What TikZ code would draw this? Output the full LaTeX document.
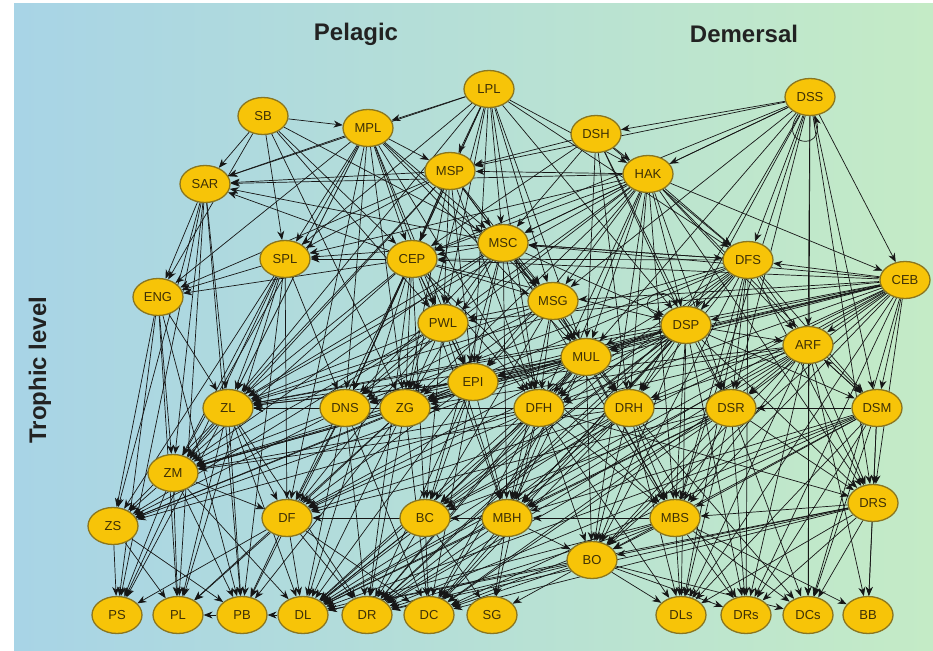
\documentclass[tikz,border=0pt]{standalone}
\usepackage{fontspec}
\setsansfont{Liberation Sans}
\usetikzlibrary{arrows.meta,shapes.geometric}
\usepackage{xcolor}
\definecolor{seablue}{HTML}{A8D4E6}
\definecolor{seamid}{HTML}{B6E0DA}
\definecolor{seagreen}{HTML}{C4EBC6}
\definecolor{nodefill}{HTML}{F7C408}
\definecolor{nodeline}{HTML}{8A7620}
\definecolor{nodetext}{HTML}{3E3006}
\definecolor{linkcol}{HTML}{161616}
\definecolor{titlecol}{HTML}{222222}
\pgfdeclarelayer{back}
\pgfdeclarelayer{links}
\pgfsetlayers{back,links,main}

\begin{document}
\begin{tikzpicture}[x=1pt, y=-1pt,
    main/.style = {draw=nodeline, fill=nodefill, ellipse, line width=1.3pt,
      minimum width=50pt, minimum height=37pt, inner sep=0pt,
      font=\sffamily\fontsize{13}{13}\selectfont, text=nodetext},
    link/.style = {-{Stealth[length=9pt,width=7pt]}, line width=0.7pt, draw=linkcol},
    title/.style = {font=\sffamily\bfseries\fontsize{24}{24}\selectfont, text=titlecol}]
  \useasboundingbox (0,0) rectangle (933,650);
  \begin{pgfonlayer}{back}
    \shade[left color=seablue, middle color=seamid, right color=seagreen] (14,4) rectangle (933,650);
  \end{pgfonlayer}

  % titles
  \node[title] (pelagic) at (356,34) {Pelagic};
  \node[title] (demersal) at (744,34) {Demersal};
  \node[title, rotate=90] (trophic) at (40,370) {Trophic level};

  % top predators
  \node[main] (LPL) at (489,89) {LPL};
  \node[main] (SB)  at (263,116) {SB};
  \node[main] (MPL) at (368,128) {MPL};
  \node[main] (DSH) at (596,134) {DSH};
  \node[main] (DSS) at (810,97) {DSS};
  \node[main] (MSP) at (450,171) {MSP};
  \node[main] (HAK) at (648,174) {HAK};
  \node[main] (SAR) at (205,184) {SAR};
  % upper middle
  \node[main] (MSC) at (503,243) {MSC};
  \node[main] (SPL) at (285,259) {SPL};
  \node[main] (CEP) at (412,259) {CEP};
  \node[main] (DFS) at (748,260) {DFS};
  \node[main] (CEB) at (905,280) {CEB};
  \node[main] (ENG) at (158,297) {ENG};
  \node[main] (MSG) at (553,301) {MSG};
  \node[main] (PWL) at (443,323) {PWL};
  \node[main] (DSP) at (686,325) {DSP};
  \node[main] (ARF) at (808,345) {ARF};
  \node[main] (MUL) at (586,357) {MUL};
  \node[main] (EPI) at (473,382) {EPI};
  % lower middle
  \node[main] (ZL)  at (228,408) {ZL};
  \node[main] (DNS) at (345,408) {DNS};
  \node[main] (ZG)  at (405,408) {ZG};
  \node[main] (DFH) at (539,408) {DFH};
  \node[main] (DRH) at (629,408) {DRH};
  \node[main] (DSR) at (731,408) {DSR};
  \node[main] (DSM) at (877,408) {DSM};
  \node[main] (ZM)  at (173,473) {ZM};
  \node[main] (ZS)  at (113,526) {ZS};
  \node[main] (DF)  at (287,518) {DF};
  \node[main] (BC)  at (425,518) {BC};
  \node[main] (MBH) at (507,518) {MBH};
  \node[main] (MBS) at (675,518) {MBS};
  \node[main] (DRS) at (873,503) {DRS};
  \node[main] (BO)  at (592,560) {BO};
  % basal groups
  \node[main] (PS)  at (117,615) {PS};
  \node[main] (PL)  at (178,615) {PL};
  \node[main] (PB)  at (242,615) {PB};
  \node[main] (DL)  at (303,615) {DL};
  \node[main] (DR)  at (367,615) {DR};
  \node[main] (DC)  at (429,615) {DC};
  \node[main] (SG)  at (492,615) {SG};
  \node[main] (DLs) at (681,615) {DLs};
  \node[main] (DRs) at (746,615) {DRs};
  \node[main] (DCs) at (808,615) {DCs};
  \node[main] (BB)  at (868,615) {BB};

  \begin{pgfonlayer}{links}
    \foreach \p in {MPL,MSP,SAR,SPL,CEP,MSC,MSG,PWL,EPI,MUL,DSP,DFS,ZG,DNS,ZL,HAK,DFH}
      \draw[link] (LPL) -- (\p);
    \foreach \p in {MPL,SAR,ENG,SPL,CEP,MSC,PWL,ZG}
      \draw[link] (SB) -- (\p);
    \foreach \p in {DSH,HAK,MSP,MSC,CEP,MSG,MUL,DSP,DFS,CEB,ARF,DSM,DRH,DSR,DRS,DCs,MBS}
      \draw[link] (DSS) -- (\p);
    \foreach \p in {HAK,MSP,CEP,MSC,MUL,DSP,DFS,DRH,DSR}
      \draw[link] (DSH) -- (\p);
    \foreach \p in {SAR,MSP,SPL,CEP,MSC,MSG,PWL,ENG,ZL,ZG,DNS,EPI,MUL,DFH,ZM,DF}
      \draw[link] (MPL) -- (\p);
    \foreach \p in {SAR,SPL,CEP,MSC,MSG,PWL,EPI,ZL,ZG,DNS,MUL,DFH,ENG,ZM}
      \draw[link] (MSP) -- (\p);
    \foreach \p in {MSP,SAR,CEP,SPL,MSC,MSG,PWL,EPI,MUL,DSP,DFS,DRH,DSR,DFH,ARF,CEB,DSM,ZG,ZL,DNS,MBS,MBH,BO,DRS}
      \draw[link] (HAK) -- (\p);
    \foreach \p in {ENG,ZL,ZM,ZS,PS,PL,PB}
      \draw[link] (SAR) -- (\p);
    \foreach \p in {ENG,ZL,ZM,ZS,DF,PB,PL,DNS,PS}
      \draw[link] (SPL) -- (\p);
    \foreach \p in {SPL,ENG,SAR,PWL,ZL,ZM,ZG,DNS,DF,BC,MBH,EPI,MSG,DFH,DSP,DL,DR,MBS}
      \draw[link] (CEP) -- (\p);
    \foreach \p in {CEP,SPL,MSG,PWL,EPI,MUL,ZL,ZG,DNS,DFH,DRH,DSP,DFS,ZM,BC,SAR,MBH,MBS}
      \draw[link] (MSC) -- (\p);
    \foreach \p in {DSP,ARF,DRH,DSR,DSM,DFH,MBS,MBH,DRS,BO,MUL,CEP,MSC,DLs,DRs,ZL,ZG,DNS,DL,DR}
      \draw[link] (DFS) -- (\p);
    \foreach \p in {DFS,DSP,ARF,DSM,DSR,DRH,DFH,MUL,EPI,PWL,CEP,MSG,DRS,MBS,BO,DLs,DRs,DCs,ZG,ZL,MSC,MBH,DNS,BC,DL}
      \draw[link] (CEB) -- (\p);
    \foreach \p in {ZL,ZM,ZS,PS,PL,PB}
      \draw[link] (ENG) -- (\p);
    \foreach \p in {MUL,PWL,EPI,DFH,ZG,ZL,DRH,MBH,BC,DNS,MBS}
      \draw[link] (MSG) -- (\p);
    \foreach \p in {ZL,ZG,ZM,DNS,EPI,DF,BC,ZS,MBH}
      \draw[link] (PWL) -- (\p);
    \foreach \p in {DRH,DSR,DFH,MBS,MBH,BO,DRS,ARF,DSM,MUL,DLs,DRs,EPI,ZG,ZL,ZM,DNS,DF,BC,DL,DR,DC}
      \draw[link] (DSP) -- (\p);
    \foreach \p in {DSR,DSM,DRS,DRH,MBS,BO,DLs,DRs,DCs,BB,DFH,ZL,ZG,DL,DR,DC}
      \draw[link] (ARF) -- (\p);
    \foreach \p in {DFH,DRH,EPI,ZG,MBH,MBS,BO,DL,DR,DC,ZL,BC,ZM,ZS,DF}
      \draw[link] (MUL) -- (\p);
    \foreach \p in {ZG,ZL,ZM,DNS,BC,DF,DL,DR,DC,MBH,ZS}
      \draw[link] (EPI) -- (\p);
    \foreach \p in {ZM,ZS,DF,PS,PL,PB,DL,DR}
      \draw[link] (ZL) -- (\p);
    \foreach \p in {ZL,ZM,ZS,DF,DL,DR,DC,PB}
      \draw[link] (DNS) -- (\p);
    \foreach \p in {ZL,ZM,ZS,DF,PL,PB,DL,DR,DC}
      \draw[link] (ZG) -- (\p);
    \foreach \p in {MBH,BC,DL,DR,DC,SG,BO,MBS,DLs,ZL,ZM,ZS,DF,DRS}
      \draw[link] (DFH) -- (\p);
    \foreach \p in {MBH,MBS,BO,DLs,DRs,DCs,DL,DR,DC,ZL,ZG,ZM,DF,BC}
      \draw[link] (DRH) -- (\p);
    \foreach \p in {MBS,MBH,BO,DRS,DLs,DRs,DCs,DL,DR,DC,ZL,ZG,DF,BC}
      \draw[link] (DSR) -- (\p);
    \foreach \p in {DRS,MBS,BO,DLs,DRs,DCs,BB,DSR,ARF,MBH,ZL,DL,DR,DC}
      \draw[link] (DSM) -- (\p);
    \foreach \p in {ZS,PS,PL,PB,DL,DF}
      \draw[link] (ZM) -- (\p);
    \foreach \p in {PS,PL,PB}
      \draw[link] (ZS) -- (\p);
    \foreach \p in {PS,PL,PB,DL,DR,DC}
      \draw[link] (DF) -- (\p);
    \foreach \p in {DL,DR,DC,DF,SG}
      \draw[link] (BC) -- (\p);
    \foreach \p in {BC,DL,DR,DC,SG,BO,DF}
      \draw[link] (MBH) -- (\p);
    \foreach \p in {BO,DLs,DRs,DCs,BB,DL,DR,DC,MBH}
      \draw[link] (MBS) -- (\p);
    \foreach \p in {MBS,BO,DLs,DRs,DCs,BB,DL,DR,DC}
      \draw[link] (DRS) -- (\p);
    \foreach \p in {DL,DR,DC,SG,DLs,DRs,DCs}
      \draw[link] (BO) -- (\p);
    \draw[link] (PB) -- (PL);
    \draw[link] (DL) -- (PB);
    % cannibalism loops
    \draw[link] (DSS) to[out=235, in=285, min distance=38pt] (DSS);
    \draw[link] (DSP) to[out=115, in=160, min distance=34pt] (DSP);
  \end{pgfonlayer}
\end{tikzpicture}
\end{document}
